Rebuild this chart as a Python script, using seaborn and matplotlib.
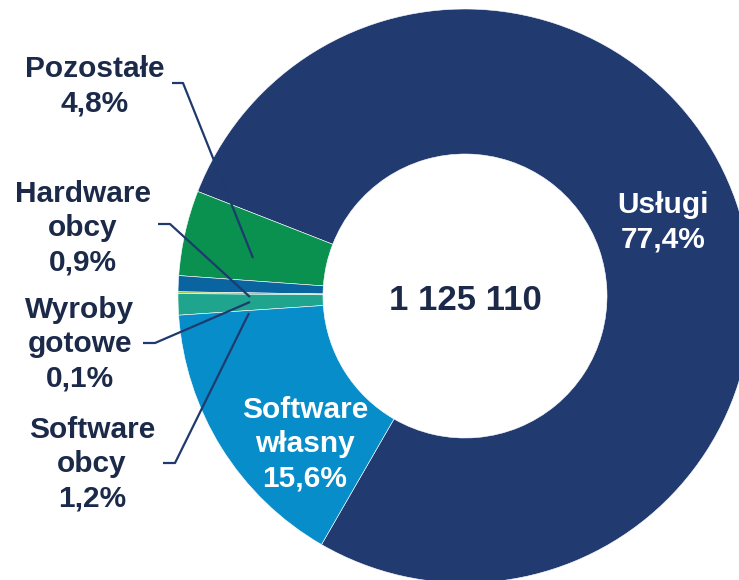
import matplotlib
matplotlib.use("Agg")
import matplotlib.pyplot as plt
import seaborn as sns

sns.set_theme(style="white")
plt.rcParams['font.family'] = ['Liberation Sans', 'DejaVu Sans']

# Data (order: counterclockwise starting at lower-left boundary)
categories = ["Usługi", "Pozostałe", "Hardware obcy", "Wyroby gotowe", "Software obcy", "Software własny"]
shares = [77.4, 4.8, 0.9, 0.1, 1.2, 15.6]
share_labels = ["77,4%", "4,8%", "0,9%", "0,1%", "1,2%", "15,6%"]
colors = ["#213a70", "#0a9150", "#0a64a0", "#9ab83c", "#1fa58e", "#078dc9"]
total_label = "1 125 110"

W, H = 739, 580
fig = plt.figure(figsize=(W / 100, H / 100), dpi=100)
ax = fig.add_axes([0, 0, 1, 1])
ax.set_xlim(0, W)
ax.set_ylim(0, H)
ax.set_aspect("equal")
ax.axis("off")

cx, cy = 465, H - 296
R = 287
ax.pie(shares, colors=colors, startangle=240.0, counterclock=True,
       radius=R, center=(cx, cy),
       wedgeprops=dict(width=145, edgecolor="white", linewidth=0.4))
ax.set_xlim(0, W)
ax.set_ylim(0, H)
ax.set_aspect("equal")

dark = "#1c2a4a"
fs = 21.5
ls = 1.28

def py(y):
    return H - y

# Inside labels
ax.text(663, py(222), f"{categories[0]}\n{share_labels[0]}", ha="center", va="center",
        color="white", fontsize=fs, fontweight="bold", linespacing=ls)
ax.text(305, py(444), "Software\nwłasny\n" + share_labels[5], ha="center", va="center",
        color="white", fontsize=fs, fontweight="bold", linespacing=ls)
ax.text(cx, py(300), total_label, ha="center", va="center",
        color=dark, fontsize=25, fontweight="bold")

# Outside labels with leader lines
line_c = "#1f3a6e"
outside = [
    ("Pozostałe\n" + share_labels[1], (95, 86), [(172, 83), (183, 83), (253, 258)]),
    ("Hardware\nobcy\n" + share_labels[2], (83, 228), [(158, 224), (170, 224), (250, 297)]),
    ("Wyroby\ngotowe\n" + share_labels[3], (80, 344), [(143, 343), (155, 343), (250, 302)]),
    ("Software\nobcy\n" + share_labels[4], (92, 464), [(163, 463), (175, 463), (249, 313)]),
]
for txt, (tx, ty), pts in outside:
    ax.text(tx, py(ty), txt, ha="center", va="center", color=dark,
            fontsize=fs, fontweight="bold", linespacing=ls)
    ax.plot([p[0] for p in pts], [py(p[1]) for p in pts], color=line_c, lw=1.6,
            solid_capstyle="butt")

fig.savefig("out.png", dpi=100)
